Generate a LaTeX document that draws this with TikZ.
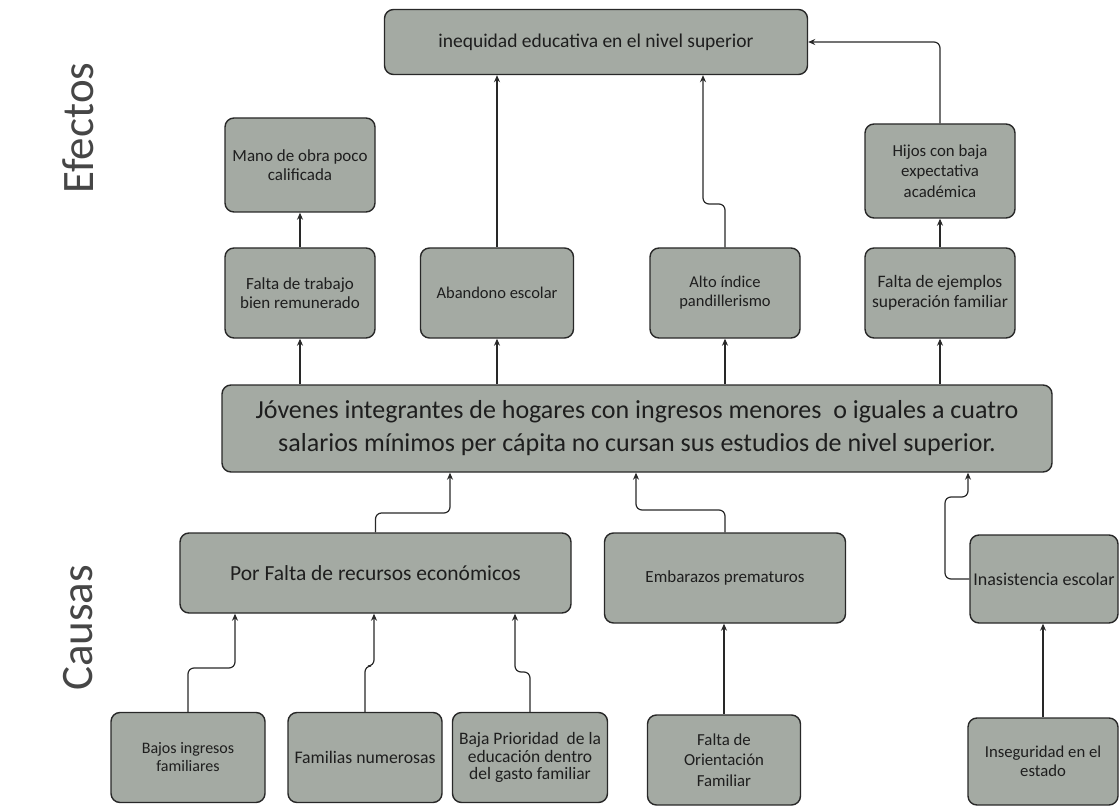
\documentclass[tikz,border=0pt]{standalone}
\usepackage{fontspec}
\setmainfont{Carlito}
\usetikzlibrary{arrows.meta}
\definecolor{boxfill}{RGB}{164,170,163}
\definecolor{boxline}{RGB}{40,40,40}
\definecolor{txt}{RGB}{30,30,30}
\definecolor{sidetxt}{RGB}{70,70,70}
\begin{document}
\begin{tikzpicture}[x=1pt,y=-1pt,
  box/.style={draw=boxline, line width=1.4pt, fill=boxfill, rounded corners=9pt, text=txt, align=center, inner sep=0pt, font=\fontsize{16.5}{19}\selectfont},
  three/.style={font=\fontsize{16.8}{20.5}\selectfont},
  conn/.style={draw=boxline, line width=1.2pt, rounded corners=6pt, -{Stealth[length=7pt,width=6pt]}},
  side/.style={rotate=90, text=sidetxt, font=\fontsize{45}{45}\selectfont}]
\useasboundingbox (0,0) rectangle (1119,810);

\node[side] (efectos) at (78,128) {Efectos};
\node[side] (causas) at (78,628) {Causas};

% top
\node[box, minimum width=423pt, minimum height=65pt, font=\fontsize{19.5}{22}\selectfont] (top) at (596,42) {inequidad educativa en el nivel superior};

% effects
\node[box, minimum width=150pt, minimum height=94pt, font=\fontsize{17}{19}\selectfont] (mano) at (300,165) {Mano de obra poco\\calificada};
\node[box, minimum width=150pt, minimum height=90pt, font=\fontsize{17}{19}\selectfont] (trabajo) at (300,293) {Falta de trabajo\\bien remunerado};
\node[box, minimum width=153pt, minimum height=90pt] (aband) at (497,293) {Abandono escolar};
\node[box, minimum width=150pt, minimum height=90pt] (alto) at (725,293) {Alto índice\\pandillerismo};
\node[box, three, minimum width=150pt, minimum height=94pt] (hijos) at (940,171) {Hijos con baja\\expectativa\\académica};
\node[box, minimum width=150pt, minimum height=90pt, font=\fontsize{17.5}{20}\selectfont] (ejemplos) at (940,293) {Falta de ejemplos\\superación familiar};

% central
\node[box, minimum width=830pt, minimum height=87pt, font=\fontsize{26}{33}\selectfont] (central) at (637,428.5) {Jóvenes integrantes de hogares con ingresos menores\ \ o iguales a cuatro\\salarios mínimos per cápita no cursan sus estudios de nivel superior.};

% causes
\node[box, minimum width=391pt, minimum height=80pt, font=\fontsize{21.5}{24}\selectfont] (porfalta) at (375.5,573) {Por Falta de recursos económicos};
\node[box, minimum width=241pt, minimum height=90pt, font=\fontsize{17}{19}\selectfont] (embarazos) at (725,578) {Embarazos prematuros};
\node[box, minimum width=148pt, minimum height=88pt, font=\fontsize{18}{20}\selectfont] (inasist) at (1044,579) {Inasistencia escolar};

\node[box, minimum width=154pt, minimum height=90pt, font=\fontsize{16}{18}\selectfont] (bajos) at (188,757.5) {Bajos ingresos\\familiares};
\node[box, minimum width=154pt, minimum height=90pt, font=\fontsize{17.7}{20}\selectfont] (familias) at (365,757.5) {Familias numerosas};
\node[box, minimum width=155pt, minimum height=90pt, font=\fontsize{17.5}{17.5}\selectfont] (baja) at (530,757.5) {Baja Prioridad\ \ de la\\educación dentro\\del gasto familiar};
\node[box, three, minimum width=153pt, minimum height=90pt] (orient) at (724,760) {Falta de\\Orientación\\Familiar};
\node[box, minimum width=150pt, minimum height=87pt, font=\fontsize{16.7}{19}\selectfont] (insegur) at (1043,761.5) {Inseguridad en el\\estado};

% effect connectors
\draw[conn] (trabajo.north) -- (mano.south);
\draw[conn] (aband.north) -- (aband.north |- top.south);
\coordinate (altoj) at (703,204);
\draw[conn] (alto.north) |- (altoj) -- (altoj |- top.south);
\draw[conn] (hijos.north) |- (top.east);
\draw[conn] (ejemplos.north) -- (hijos.south);

\draw[conn] (central.north -| trabajo.south) -- (trabajo.south);
\draw[conn] (central.north -| aband.south) -- (aband.south);
\draw[conn] (central.north -| alto.south) -- (alto.south);
\draw[conn] (central.north -| ejemplos.south) -- (ejemplos.south);

% cause connectors
\coordinate (pfj) at (450,513);
\draw[conn] (porfalta.north) |- (pfj) -- (pfj |- central.south);
\coordinate (emj) at (636,510);
\draw[conn] (embarazos.north) |- (emj) -- (emj |- central.south);
\coordinate (inj1) at (945,497);
\coordinate (inj2) at (968,497);
\draw[conn] (inasist.west) -| (inj1) -- (inj2) -- (inj2 |- central.south);

\coordinate (bjj) at (235,668);
\draw[conn] (bajos.north) |- (bjj) -- (bjj |- porfalta.south);
\coordinate (faj) at (374,666);
\draw[conn] (familias.north) |- (faj) -- (faj |- porfalta.south);
\coordinate (baj) at (515,672);
\draw[conn] (baja.north) |- (baj) -- (baj |- porfalta.south);
\draw[conn] (orient.north) -- (orient.north |- embarazos.south);
\draw[conn] (insegur.north) -- (insegur.north |- inasist.south);
\end{tikzpicture}
\end{document}
